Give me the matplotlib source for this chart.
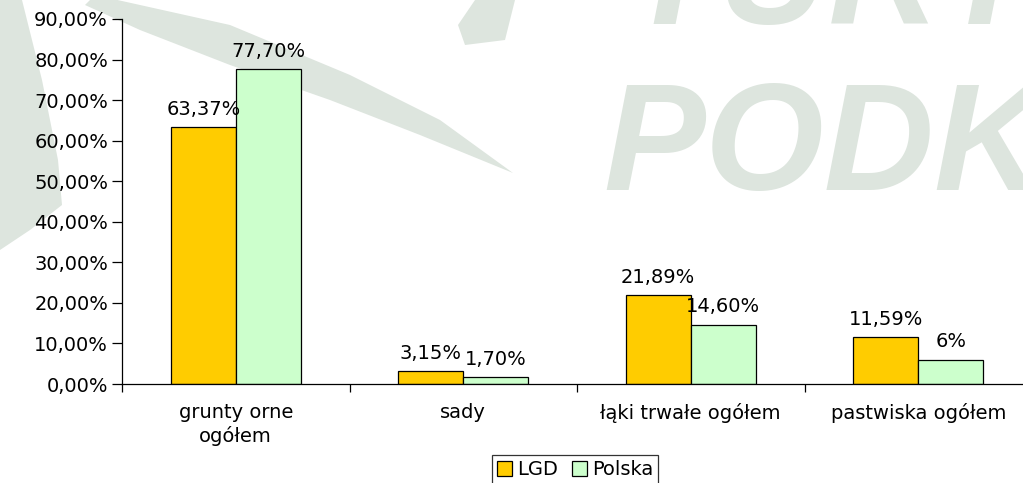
import matplotlib
matplotlib.use("Agg")
import matplotlib.pyplot as plt
from matplotlib import font_manager
import numpy as np
from matplotlib.patches import Polygon

categories = ["grunty orne\nogółem", "sady", "łąki trwałe ogółem", "pastwiska ogółem"]
lgd = [63.37, 3.15, 21.89, 11.59]
polska = [77.70, 1.70, 14.60, 6.0]
lgd_labels = ["63,37%", "3,15%", "21,89%", "11,59%"]
polska_labels = ["77,70%", "1,70%", "14,60%", "6%"]
yticks = [0, 10, 20, 30, 40, 50, 60, 70, 80, 90]
ytick_labels = ["0,00%", "10,00%", "20,00%", "30,00%", "40,00%", "50,00%", "60,00%", "70,00%", "80,00%", "90,00%"]

plt.rcParams['font.family'] = ['DejaVu Sans']
FS = 14

names = {f.name for f in font_manager.fontManager.ttflist}
if 'Liberation Sans Narrow' in names:
    wm_family = ['Liberation Sans Narrow']
    wm_size = 124
else:
    wm_family = ['Liberation Sans']
    wm_size = 110

W, H = 1023, 483
fig = plt.figure(figsize=(W/100, H/100), dpi=100)

def px(pts):
    return [(x/W, 1 - y/H) for x, y in pts]

wm = '#dde5de'
shapes = [
    [(95, -5), (230, 25), (350, 75), (440, 120), (513, 173), (420, 135), (330, 100), (230, 65), (140, 30), (85, 5)],
    [(0, 0), (22, 0), (42, 80), (58, 160), (62, 205), (30, 230), (0, 250)],
    [(475, 0), (515, 0), (505, 40), (465, 45), (458, 25)],
]
for s in shapes:
    fig.patches.append(Polygon(px(s), closed=True, transform=fig.transFigure,
                               color=wm, zorder=0, lw=0))
fig.text(603/W, 1-190/H, "PODK", fontsize=wm_size, fontweight='bold', style='italic',
         color=wm, ha='left', va='baseline', family=wm_family, zorder=0)
fig.text(625/W, 1-24/H, "TURYS", fontsize=wm_size, fontweight='bold', style='italic',
         color=wm, ha='left', va='baseline', family=wm_family, zorder=0)

ax = fig.add_axes([122/W, (H-384)/H, 910/W, (384-19)/H])
ax.set_zorder(2)
ax.patch.set_alpha(0)

x = np.arange(len(categories))
bw = 1/3.5
b1 = ax.bar(x - bw/2, lgd, bw, color='#FFCC00', edgecolor='black', linewidth=0.9, label='LGD')
b2 = ax.bar(x + bw/2, polska, bw, color='#CCFFCC', edgecolor='black', linewidth=0.9, label='Polska')

for rect, lab in zip(b1, lgd_labels):
    ax.annotate(lab, (rect.get_x() + rect.get_width()/2, rect.get_height()),
                xytext=(0, 6), textcoords='offset points', ha='center', va='bottom', fontsize=FS)
for rect, lab in zip(b2, polska_labels):
    ax.annotate(lab, (rect.get_x() + rect.get_width()/2, rect.get_height()),
                xytext=(0, 6), textcoords='offset points', ha='center', va='bottom', fontsize=FS)

ax.set_xlim(-0.5, len(categories) - 0.5)
ax.set_ylim(0, 90)
ax.set_yticks(yticks)
ax.set_yticklabels(ytick_labels, fontsize=FS)
ax.set_xticks(x)
ax.set_xticklabels(categories, fontsize=FS, linespacing=1.2)
ax.set_xticks(np.arange(len(categories) + 1) - 0.5, minor=True)
ax.tick_params(axis='x', which='major', length=0, pad=14)
ax.tick_params(axis='x', which='minor', length=6, direction='out', width=0.9)
ax.tick_params(axis='y', length=7, direction='out', pad=3, width=0.9)
for s in ['top', 'right']:
    ax.spines[s].set_visible(False)
ax.spines['left'].set_linewidth(0.9)
ax.spines['bottom'].set_linewidth(0.9)

leg = ax.legend(loc='upper center', bbox_to_anchor=(575/W, 1-455/H), bbox_transform=fig.transFigure,
                ncol=2, fontsize=FS, frameon=True, fancybox=False, edgecolor='black',
                handlelength=0.8, handleheight=0.8, handletextpad=0.25, columnspacing=0.7,
                borderpad=0.25, borderaxespad=0)
leg.get_frame().set_linewidth(0.9)

fig.savefig("out.png", dpi=100)
